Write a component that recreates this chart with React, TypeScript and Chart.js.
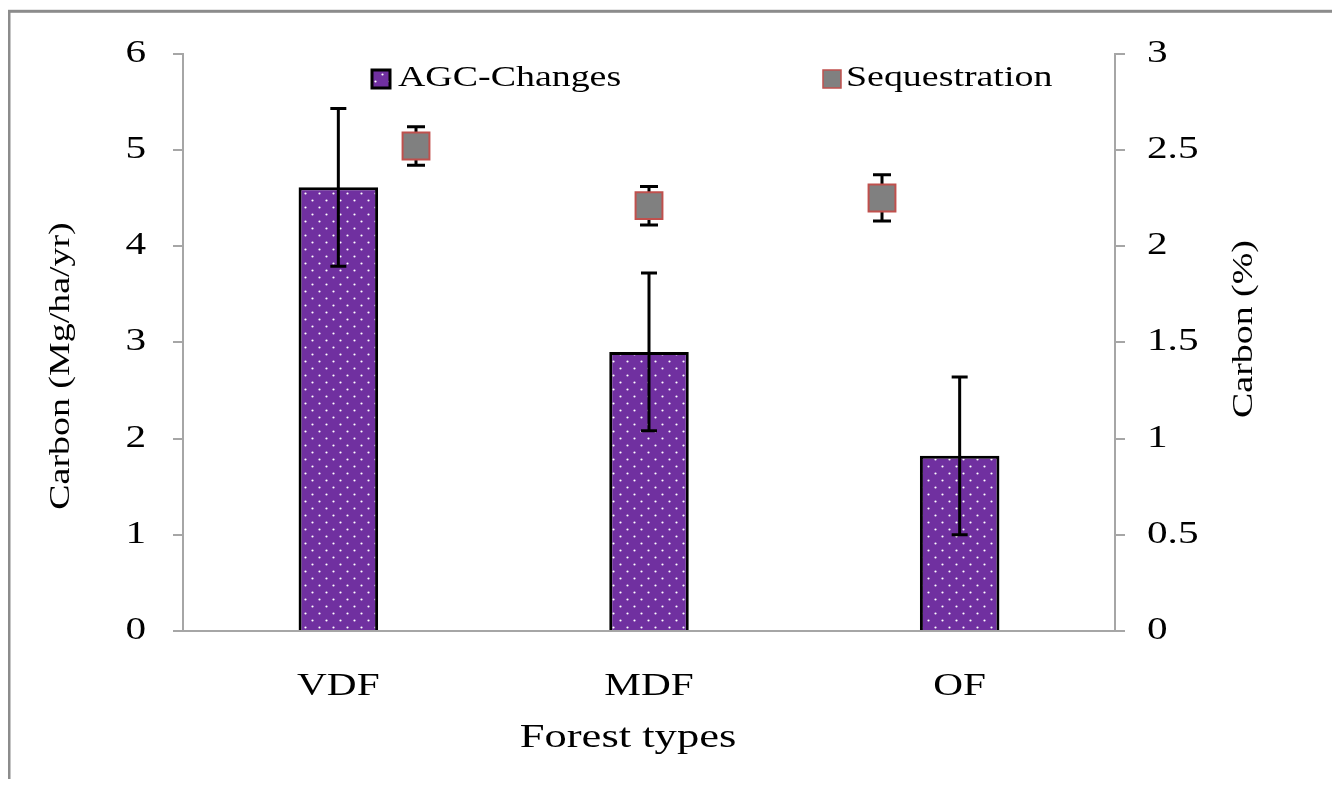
import { useEffect, useRef } from 'react';
import { Chart, registerables } from 'chart.js';

Chart.register(...registerables);

const categories = ['VDF', 'MDF', 'OF'];
const agcValues = [4.61, 2.9, 1.82];
const agcErrors = [0.82, 0.82, 0.82];
const seqX = [1, 2, 3];
const seqValues = [2.52, 2.21, 2.25];
const seqErrors = [0.1, 0.1, 0.12];
const legendLabels = ['AGC-Changes', 'Sequestration'];
const leftTitle = 'Carbon (Mg/ha/yr)';
const rightTitle = 'Carbon (%)';
const bottomTitle = 'Forest types';

const FAMILY = '"Liberation Serif", "Times New Roman", serif';
const STRETCH = 1.33;
const AXIS = '#a6a6a6';
const PURPLE = '#7030a0';
const W = 1324;
const H = 771;

function makePattern(ctx: CanvasRenderingContext2D): CanvasPattern | string {
  const c = document.createElement('canvas');
  c.width = 14;
  c.height = 14;
  const p = c.getContext('2d');
  if (!p) return PURPLE;
  p.fillStyle = PURPLE;
  p.fillRect(0, 0, 14, 14);
  p.fillStyle = '#ffffff';
  p.beginPath();
  p.arc(3.5, 3.5, 1.1, 0, Math.PI * 2);
  p.arc(10.5, 10.5, 1.1, 0, Math.PI * 2);
  p.fill();
  return ctx.createPattern(c, 'repeat') || PURPLE;
}

function stretchText(ctx: CanvasRenderingContext2D) {
  const anyCtx = ctx as any;
  if (anyCtx.__stretched) return;
  anyCtx.__stretched = true;
  const origFill = ctx.fillText.bind(ctx);
  const origMeasure = ctx.measureText.bind(ctx);
  anyCtx.fillText = (text: string, x: number, y: number, maxWidth?: number) => {
    ctx.save();
    ctx.translate(x, y);
    ctx.scale(STRETCH, 1);
    if (maxWidth !== undefined && maxWidth !== null) origFill(text, 0, 0, maxWidth / STRETCH);
    else origFill(text, 0, 0);
    ctx.restore();
  };
  anyCtx.measureText = (text: string) => {
    const m = origMeasure(text);
    return {
      width: m.width * STRETCH,
      actualBoundingBoxAscent: m.actualBoundingBoxAscent,
      actualBoundingBoxDescent: m.actualBoundingBoxDescent,
      actualBoundingBoxLeft: m.actualBoundingBoxLeft * STRETCH,
      actualBoundingBoxRight: m.actualBoundingBoxRight * STRETCH,
      fontBoundingBoxAscent: m.fontBoundingBoxAscent,
      fontBoundingBoxDescent: m.fontBoundingBoxDescent,
    };
  };
}

function drawErr(ctx: CanvasRenderingContext2D, x: number, yTop: number, yBot: number, half: number, lw: number) {
  ctx.save();
  ctx.strokeStyle = '#000';
  ctx.lineWidth = lw;
  ctx.lineCap = 'butt';
  ctx.beginPath();
  ctx.moveTo(x, yTop);
  ctx.lineTo(x, yBot);
  ctx.moveTo(x - half, yTop);
  ctx.lineTo(x + half, yTop);
  ctx.moveTo(x - half, yBot);
  ctx.lineTo(x + half, yBot);
  ctx.stroke();
  ctx.restore();
}

export default function App() {
  const ref = useRef<HTMLCanvasElement | null>(null);

  useEffect(() => {
    const canvas = ref.current;
    if (!canvas) return;
    const ctx = canvas.getContext('2d');
    if (!ctx) return;
    stretchText(ctx);
    const pattern = makePattern(ctx);

    const framePlugin = {
      id: 'frame',
      beforeDraw(chart: any) {
        const c = chart.ctx as CanvasRenderingContext2D;
        c.save();
        c.fillStyle = '#ffffff';
        c.fillRect(0, 0, chart.width, chart.height);
        c.strokeStyle = '#8c8c8c';
        c.lineWidth = 3;
        c.strokeRect(1, 3.3, 3000, 3000);
        c.restore();
      },
    };

    const errorPlugin = {
      id: 'errs',
      beforeDatasetDraw(chart: any, args: any) {
        if (args.index !== 0) return;
        const c = chart.ctx as CanvasRenderingContext2D;
        const xs = chart.scales.x2;
        const ys = chart.scales.y2;
        seqValues.forEach((v, i) => {
          const px = xs.getPixelForValue(seqX[i]);
          drawErr(c, px, ys.getPixelForValue(v + seqErrors[i]), ys.getPixelForValue(v - seqErrors[i]), 9, 3);
        });
      },
      afterDatasetDraw(chart: any, args: any) {
        if (args.index !== 1) return;
        const c = chart.ctx as CanvasRenderingContext2D;
        const xs = chart.scales.x;
        const ys = chart.scales.y;
        agcValues.forEach((v, i) => {
          const px = xs.getPixelForValue(i);
          drawErr(c, px, ys.getPixelForValue(v + agcErrors[i]), ys.getPixelForValue(v - agcErrors[i]), 8, 3);
        });
      },
    };

    const textPlugin = {
      id: 'texts',
      afterDraw(chart: any) {
        const c = chart.ctx as CanvasRenderingContext2D;
        c.save();
        c.fillStyle = '#000';
        c.textBaseline = 'middle';
        // legend
        c.font = `28.5px ${FAMILY}`;
        c.textAlign = 'left';
        c.fillStyle = pattern as any;
        c.fillRect(364, 62, 18, 18);
        c.strokeStyle = '#000';
        c.lineWidth = 3;
        c.strokeRect(364, 62, 18, 18);
        c.fillStyle = '#808080';
        c.fillRect(815, 62, 18, 18);
        c.strokeStyle = '#c0504d';
        c.lineWidth = 1.5;
        c.strokeRect(815, 62, 18, 18);
        c.fillStyle = '#000';
        c.fillText(legendLabels[0], 390, 71);
        c.fillText(legendLabels[1], 838, 71);
        // axis titles
        c.textAlign = 'center';
        c.font = `28.5px ${FAMILY}`;
        c.save();
        c.translate(54, 358);
        c.rotate(-Math.PI / 2);
        c.fillText(leftTitle, 0, 0);
        c.restore();
        c.save();
        c.translate(1237, 321);
        c.rotate(-Math.PI / 2);
        c.fillText(rightTitle, 0, 0);
        c.restore();
        c.font = `33.5px ${FAMILY}`;
        c.fillText(bottomTitle, 620, 730);
        c.restore();
      },
    };

    const tickFont = { family: FAMILY, size: 31 };
    const numLabel = (v: any) => String(Number(v));
    const chart = new Chart(ctx, {
      type: 'bar',
      data: {
        labels: categories,
        datasets: [
          {
            type: 'scatter',
            label: legendLabels[1],
            data: seqX.map((x, i) => ({ x, y: seqValues[i] })),
            xAxisID: 'x2',
            yAxisID: 'y2',
            pointStyle: 'rect',
            pointRadius: 19,
            pointHoverRadius: 19,
            backgroundColor: '#808080',
            borderColor: '#c0504d',
            borderWidth: 2,
            order: 0,
          } as any,
          {
            type: 'bar',
            label: legendLabels[0],
            data: agcValues,
            xAxisID: 'x',
            yAxisID: 'y',
            backgroundColor: pattern as any,
            borderColor: '#000',
            borderWidth: 3,
            grouped: false,
            barPercentage: 0.256,
            categoryPercentage: 1,
            order: 1,
          } as any,
        ],
      },
      options: {
        responsive: false,
        animation: false,
        devicePixelRatio: 1,
        events: [],
        layout: { padding: { top: 44, left: 0, right: 0, bottom: 0 } },
        plugins: { legend: { display: false }, tooltip: { enabled: false } },
        scales: {
          x: {
            type: 'category',
            position: 'bottom',
            offset: true,
            grid: { display: false, drawTicks: false },
            border: { display: true, color: AXIS, width: 2 },
            ticks: { color: '#000', font: tickFont as any, padding: 37, maxRotation: 0 },
            afterFit: (s: any) => {
              s.height = H - 623;
            },
          },
          x2: {
            type: 'linear',
            display: false,
            offset: false,
            min: 0,
            max: 4,
            grid: { offset: false },
          } as any,
          y: {
            type: 'linear',
            position: 'left',
            min: 0,
            max: 6,
            ticks: { stepSize: 1, color: '#000', font: tickFont as any, padding: 27, callback: numLabel },
            grid: { drawOnChartArea: false, drawTicks: true, tickLength: 10, color: AXIS, lineWidth: 2 },
            border: { display: true, color: AXIS, width: 2 },
            afterFit: (s: any) => {
              s.width = 175;
            },
          },
          y2: {
            type: 'linear',
            position: 'right',
            min: 0,
            max: 3,
            ticks: { stepSize: 0.5, color: '#000', font: tickFont as any, padding: 22, callback: numLabel },
            grid: { drawOnChartArea: false, drawTicks: true, tickLength: 10, color: AXIS, lineWidth: 2 },
            border: { display: true, color: AXIS, width: 2 },
            afterFit: (s: any) => {
              s.width = W - 1107;
            },
          },
        },
      },
      plugins: [framePlugin, errorPlugin, textPlugin],
    });

    return () => {
      chart.destroy();
    };
  }, []);

  return (
    <canvas
      ref={ref}
      width={W}
      height={H}
      style={{ display: 'block', width: `${W}px`, height: `${H}px` }}
    />
  );
}
